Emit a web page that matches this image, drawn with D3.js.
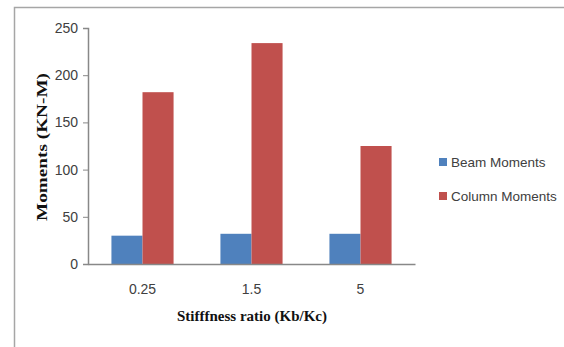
<!DOCTYPE html>
<html>
<head>
<meta charset="utf-8">
<script src="https://cdn.jsdelivr.net/npm/d3@7"></script>
<style>
  body { margin: 0; background: #fff; }
  svg { display: block; }
</style>
</head>
<body>
<svg id="chart"></svg>
<script>
const categories = ['0.25', '1.5', '5'];
const beamMoments = [30, 32, 32];
const columnMoments = [182, 234, 125];
const seriesNames = ['Beam Moments', 'Column Moments'];
const yTicks = [0, 50, 100, 150, 200, 250];

const W = 564, H = 347;
const margin = { top: 28, left: 88, bottom: 83, plotRight: 415 };

const svg = d3.select('#chart')
  .attr('width', W)
  .attr('height', H);

// outer frame (top + left edges only are visible)
svg.append('path')
  .attr('d', `M14.5,${H} L14.5,7.5 L${W},7.5`)
  .attr('fill', 'none')
  .attr('stroke', '#a6a6a6')
  .attr('stroke-width', 1.5);

const x0 = d3.scaleBand()
  .domain(categories)
  .range([margin.left, margin.plotRight])
  .paddingInner(0.43)
  .paddingOuter(0.215);

const x1 = d3.scaleBand()
  .domain(seriesNames)
  .range([0, x0.bandwidth()]);

const y = d3.scaleLinear()
  .domain([0, 250])
  .range([H - margin.bottom, margin.top]);

const color = d3.scaleOrdinal()
  .domain(seriesNames)
  .range(['#4f81bd', '#c0504d']);

const rows = categories.map((c, i) => ({
  cat: c,
  values: [
    { name: seriesNames[0], value: beamMoments[i] },
    { name: seriesNames[1], value: columnMoments[i] }
  ]
}));

// bars
svg.append('g')
  .selectAll('g')
  .data(rows)
  .enter()
  .append('g')
  .attr('transform', d => `translate(${x0(d.cat)},0)`)
  .selectAll('rect')
  .data(d => d.values)
  .enter()
  .append('rect')
  .attr('x', d => x1(d.name))
  .attr('y', d => y(d.value))
  .attr('width', x1.bandwidth())
  .attr('height', d => y(0) - y(d.value))
  .attr('fill', d => color(d.name));

// y axis
const yAxis = svg.append('g')
  .attr('transform', `translate(${margin.left},0)`)
  .call(d3.axisLeft(y).tickValues(yTicks).tickSize(5).tickPadding(5));
yAxis.select('.domain').attr('stroke', '#888').attr('stroke-width', 1.5);
yAxis.selectAll('.tick line').attr('stroke', '#888');
yAxis.selectAll('.tick text')
  .attr('font-family', 'Liberation Sans, Arial, sans-serif')
  .attr('font-size', 14)
  .attr('fill', '#404040');

// x axis
const xAxis = svg.append('g')
  .attr('transform', `translate(0,${y(0)})`)
  .call(d3.axisBottom(x0).tickSize(0).tickPadding(20));
xAxis.select('.domain').attr('stroke', '#888').attr('stroke-width', 1.5);
xAxis.selectAll('.tick text')
  .attr('font-family', 'Liberation Sans, Arial, sans-serif')
  .attr('font-size', 14)
  .attr('fill', '#404040');

// axis titles
svg.append('text')
  .attr('x', 252)
  .attr('y', 321)
  .attr('text-anchor', 'middle')
  .attr('font-family', 'Liberation Serif, Times New Roman, serif')
  .attr('font-weight', 'bold')
  .attr('font-size', 15)
  .attr('fill', '#111')
  .text('Stifffness ratio (Kb/Kc)');

svg.append('text')
  .attr('transform', `translate(47,147) rotate(-90)`)
  .attr('text-anchor', 'middle')
  .attr('font-family', 'Liberation Serif, Times New Roman, serif')
  .attr('font-weight', 'bold')
  .attr('font-size', 15)
  .attr('textLength', 148)
  .attr('lengthAdjust', 'spacingAndGlyphs')
  .attr('fill', '#111')
  .text('Moments (KN-M)');

// legend
const legend = svg.append('g')
  .selectAll('g')
  .data(seriesNames)
  .enter()
  .append('g')
  .attr('transform', (d, i) => `translate(439,${162 + i * 34})`);

legend.append('rect')
  .attr('x', 0)
  .attr('y', -4)
  .attr('width', 8)
  .attr('height', 8)
  .attr('fill', d => color(d));

legend.append('text')
  .attr('x', 12)
  .attr('y', 5)
  .attr('font-family', 'Liberation Sans, Arial, sans-serif')
  .attr('font-size', 13.5)
  .attr('fill', '#404040')
  .text(d => d);
</script>
</body>
</html>
